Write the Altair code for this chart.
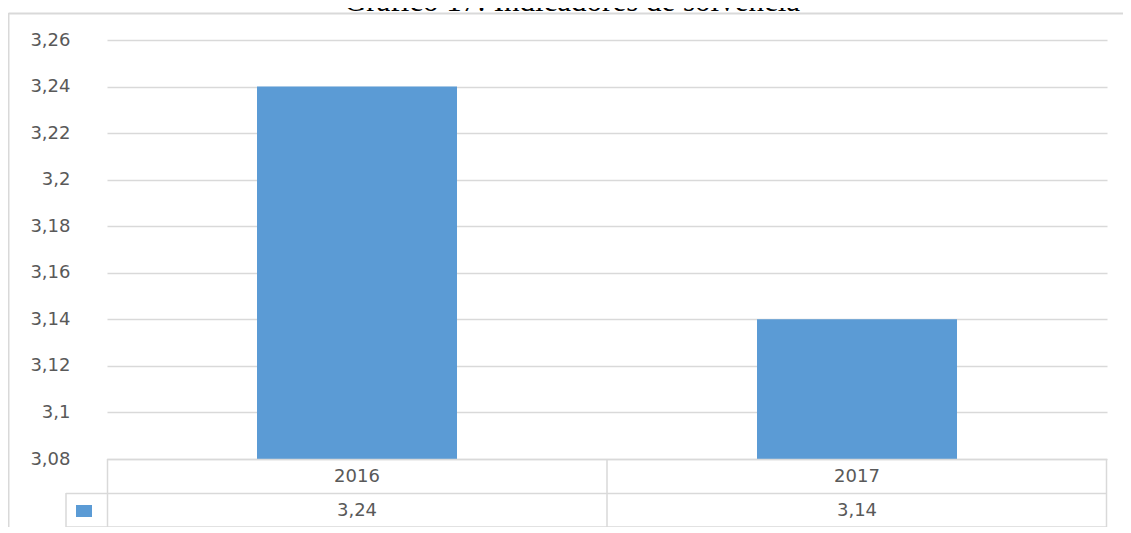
import altair as alt
import pandas as pd

years = ["2016", "2017"]
values = [3.24, 3.14]
y_ticks = [3.08, 3.10, 3.12, 3.14, 3.16, 3.18, 3.20, 3.22, 3.24, 3.26]
title_text = "Gráfico  17: Indicadores de solvencia"

df = pd.DataFrame({"year": years, "value": values})
df["label"] = [f"{v:.2f}".replace(".", ",") for v in values]

GRID = "#d9d9d9"
TXT = "#595959"
BAR = "#5B9BD5"
FONT = "DejaVu Sans"

W, H = 1000, 419

xs = alt.Scale(domain=years, paddingInner=0.6, paddingOuter=0.3)
ys = alt.Scale(domain=[3.08, 3.26], nice=False, zero=False)

base = alt.Chart(df)

bars = base.mark_bar(color=BAR).encode(
    x=alt.X("year:N", scale=xs, axis=None),
    y=alt.Y("value:Q", scale=ys, axis=alt.Axis(
        values=y_ticks, title=None, domain=False, ticks=False,
        labelExpr="replace(format(datum.value, '.2~f'), '.', ',')",
        labelFont=FONT, labelFontSize=18, labelColor=TXT, labelPadding=37,
        grid=True, gridColor=GRID, gridWidth=1.5)),
    y2=alt.datum(3.08),
)

row1 = base.mark_text(font=FONT, fontSize=18, color=TXT, baseline="middle").encode(
    x=alt.X("year:N", scale=xs, axis=None), y=alt.value(437), text="year:N")
row2 = base.mark_text(font=FONT, fontSize=18, color=TXT, baseline="middle").encode(
    x=alt.X("year:N", scale=xs, axis=None), y=alt.value(471), text="label:N")

one = alt.Chart(pd.DataFrame({"k": [0]}))

def hline(x1, x2, y, w=1.5):
    return one.mark_rule(color=GRID, strokeWidth=w).encode(
        x=alt.value(x1), x2=alt.value(x2), y=alt.value(y))

def vline(x, y1, y2, w=1.5):
    return one.mark_rule(color=GRID, strokeWidth=w).encode(
        x=alt.value(x), y=alt.value(y1), y2=alt.value(y2))

lines = [
    hline(0, 1000, 419.5),
    hline(-41, 1000, 453.5),
    hline(-41, 1000, 487),
    vline(0.5, 419, 488),
    vline(500, 419, 488),
    vline(999.5, 419, 488),
    vline(-41, 453, 488),
    # outer frame
    hline(-98.5, 1030, -26.5, 2),
    vline(-98.5, -27, 600, 2),
]

swatch = one.mark_rect(color=BAR).encode(
    x=alt.value(-31), x2=alt.value(-15), y=alt.value(465), y2=alt.value(477))

title = one.mark_text(font="Liberation Serif", fontSize=31, color="#000000",
                      baseline="alphabetic", align="center").encode(
    x=alt.value(465), y=alt.value(-29), text=alt.value(title_text))

chart = alt.layer(bars, row1, row2, swatch, title, *lines).properties(
    width=W, height=H,
    background="white",
    autosize=alt.AutoSizeParams(type="none"),
    padding={"left": 99, "top": 32, "right": 16, "bottom": 68},
).configure_view(strokeWidth=0, stroke="transparent")

chart.save("out.html", embed_options={"renderer": "svg", "actions": False})
